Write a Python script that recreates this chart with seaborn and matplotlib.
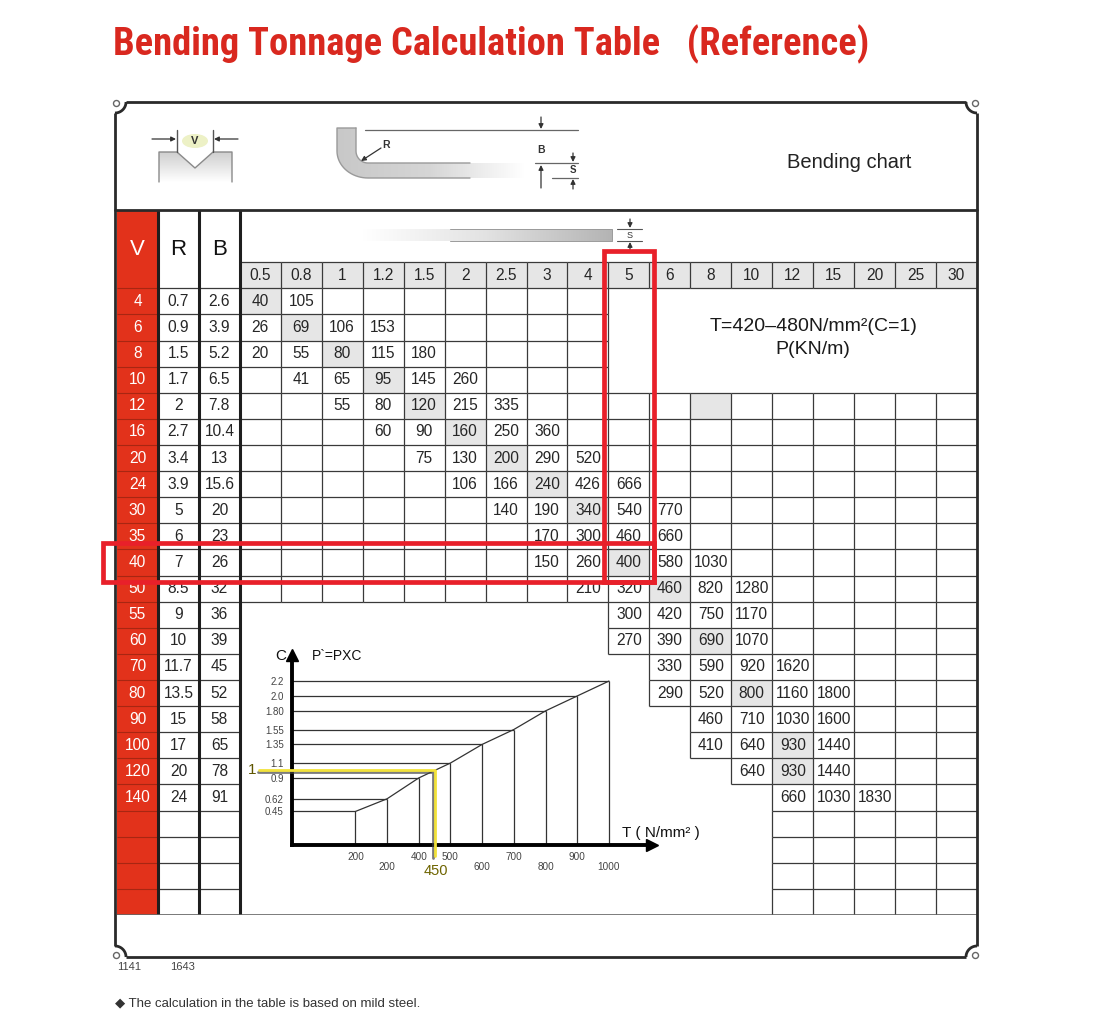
import numpy as np
import pandas as pd
import seaborn as sns
import matplotlib.pyplot as plt
import matplotlib.patheffects as pe
from matplotlib.colors import ListedColormap, LinearSegmentedColormap
from matplotlib.collections import LineCollection
from matplotlib.patches import Rectangle, Polygon, Ellipse, Circle
from matplotlib.transforms import blended_transform_factory

OUT_PATH = 'out.png'

# die opening V, inner radius R, minimum flange B
V_VALUES = [4, 6, 8, 10, 12, 16, 20, 24, 30, 35, 40, 50, 55, 60, 70, 80, 90, 100, 120, 140]
R_VALUES = [0.7, 0.9, 1.5, 1.7, 2, 2.7, 3.4, 3.9, 5, 6, 7, 8.5, 9, 10, 11.7, 13.5, 15, 17, 20, 24]
B_VALUES = [2.6, 3.9, 5.2, 6.5, 7.8, 10.4, 13, 15.6, 20, 23, 26, 32, 36, 39, 45, 52, 58, 65, 78, 91]
S_VALUES = ['0.5', '0.8', '1', '1.2', '1.5', '2', '2.5', '3', '4', '5',
            '6', '8', '10', '12', '15', '20', '25', '30']

# tonnage P (kN/m): first thickness column of each V row, then its values
ROW_START = ['0.5', '0.5', '0.5', '0.8', '1', '1.2', '1.5', '2', '2.5', '3',
             '3', '4', '5', '5', '6', '6', '8', '8', '10', '12']
ROW_TONNAGE = [
    [40, 105],
    [26, 69, 106, 153],
    [20, 55, 80, 115, 180],
    [41, 65, 95, 145, 260],
    [55, 80, 120, 215, 335],
    [60, 90, 160, 250, 360],
    [75, 130, 200, 290, 520],
    [106, 166, 240, 426, 666],
    [140, 190, 340, 540, 770],
    [170, 300, 460, 660],
    [150, 260, 400, 580, 1030],
    [210, 320, 460, 820, 1280],
    [300, 420, 750, 1170],
    [270, 390, 690, 1070],
    [330, 590, 920, 1620],
    [290, 520, 800, 1160, 1800],
    [460, 710, 1030, 1600],
    [410, 640, 930, 1440],
    [640, 930, 1440],
    [660, 1030, 1830],
]

# grey (recommended) cells
SHADED_V = [4, 6, 8, 10, 12, 16, 20, 24, 30, 40, 50, 60, 80, 100, 120, 12]
SHADED_S = ['0.5', '0.8', '1', '1.2', '1.5', '2', '2.5', '3', '4', '5',
            '6', '8', '10', '12', '12', '8']

HIGHLIGHT_V = 40
HIGHLIGHT_S = '5'

# correction factor chart
T_LEVELS = [200, 300, 400, 500, 600, 700, 800, 900, 1000]
T_LABELS = ['200', '200', '400', '500', '600', '700', '800', '900', '1000']
C_LEVELS = [0.45, 0.62, 0.9, 1.1, 1.35, 1.55, 1.8, 2.0, 2.2]
C_LABELS = ['0.45', '0.62', '0.9', '1.1', '1.35', '1.55', '1.80', '2.0', '2.2']
REF_T = 450
REF_C = 1

# layout (pixels of the 1114x1025 picture)
W, H = 1114, 1025
TAB_L, TAB_R, TAB_T, TAB_B = 117, 977, 210, 915
N_HEAD = 3
N_EMPTY = 4
NOTE_ROWS = 4           # first V rows where the note sits on the right
NOTE_FROM = '5'
CHART_FROM_V = 55       # rows from here on leave room for the C chart
LOWER_LABELS = [1, 4, 6, 8]
CHART_BOX = (292, 652, 655, 845)   # left, right, top, bottom
CHART_XLIM = (0, 1136)
CHART_YLIM = (0, 2.55)

RED = '#e2321b'
BOX_RED = '#e8202a'
LINE = '#3a3a3a'


def main():
    sns.set_theme(style='white')
    plt.rcParams['font.family'] = ['Liberation Sans', 'DejaVu Sans']

    fig = plt.figure(figsize=(W / 100, H / 100), dpi=100)
    fig.patch.set_facecolor('white')

    n_rows = N_HEAD + len(V_VALUES) + N_EMPTY
    n_cols = 3 + len(S_VALUES)

    codes = np.zeros((n_rows, n_cols))
    codes[:, 0] = 2
    codes[2, 3:] = 1
    for v, s in zip(SHADED_V, SHADED_S):
        codes[N_HEAD + V_VALUES.index(v), 3 + S_VALUES.index(s)] = 1

    annot = np.full((n_rows, n_cols), '', dtype=object)
    annot[2, 3:] = S_VALUES
    for i, (v, r, b) in enumerate(zip(V_VALUES, R_VALUES, B_VALUES)):
        row = N_HEAD + i
        annot[row, 0] = str(v)
        annot[row, 1] = f'{r:g}'
        annot[row, 2] = f'{b:g}'
        j0 = 3 + S_VALUES.index(ROW_START[i])
        for k, p in enumerate(ROW_TONNAGE[i]):
            annot[row, j0 + k] = str(p)

    # which cells get borders
    grid = np.zeros((n_rows, n_cols), dtype=bool)
    grid[N_HEAD:, 1:3] = True
    grid[2, 3:] = True
    note_col = 3 + S_VALUES.index(NOTE_FROM)
    for i, v in enumerate(V_VALUES):
        row = N_HEAD + i
        if i < NOTE_ROWS:
            grid[row, 3:note_col] = True
        elif v >= CHART_FROM_V:
            grid[row, 3 + S_VALUES.index(ROW_START[i]):] = True
        else:
            grid[row, 3:] = True
    for e in range(N_EMPTY):
        grid[N_HEAD + len(V_VALUES) + e, 3 + S_VALUES.index(ROW_START[-1]):] = True

    segs = set()
    for r, c in zip(*np.nonzero(grid)):
        segs.add(((c, r), (c + 1, r)))
        segs.add(((c, r + 1), (c + 1, r + 1)))
        segs.add(((c, r), (c, r + 1)))
        segs.add(((c + 1, r), (c + 1, r + 1)))

    # table
    tab = fig.add_axes([TAB_L / W, 1 - TAB_B / H, (TAB_R - TAB_L) / W, (TAB_B - TAB_T) / H])
    sns.heatmap(pd.DataFrame(codes), ax=tab,
                cmap=ListedColormap(['#ffffff', '#e6e6e6', RED]),
                vmin=-0.5, vmax=2.5, cbar=False, annot=annot, fmt='',
                annot_kws={'fontsize': 11.2}, xticklabels=False, yticklabels=False)
    tab.set_axis_off()
    tab.add_collection(LineCollection(list(segs), colors=LINE, linewidths=0.9))
    tab.hlines(range(N_HEAD, n_rows), 0, 1, colors='#a82612', linewidths=0.8)
    tab.vlines([1, 2, 3], 0, n_rows, colors='#1e1e1e', linewidths=2.2)
    tab.hlines(n_rows, 0, n_cols, colors='#666666', linewidths=1.2)

    tab.text(0.5, 1.5, 'V', color='white', fontsize=16, ha='center', va='center')
    tab.text(1.5, 1.5, 'R', color='#111111', fontsize=16, ha='center', va='center')
    tab.text(2.5, 1.5, 'B', color='#111111', fontsize=16, ha='center', va='center')

    note_x = (note_col + n_cols) / 2 + 0.5
    tab.text(note_x, 4.45, 'T=420\u2013480N/mm\u00b2(C=1)', fontsize=14,
             ha='center', va='center', color='#1a1a1a')
    tab.text(note_x, 5.35, 'P(KN/m)', fontsize=14, ha='center', va='center', color='#1a1a1a')

    # correction chart C vs T
    cl, cr, ct, cb = CHART_BOX
    diag = fig.add_axes([cl / W, 1 - cb / H, (cr - cl) / W, (cb - ct) / H])
    diag.patch.set_alpha(0)
    xlim, ylim = CHART_XLIM, CHART_YLIM
    diag.hlines(C_LEVELS, xlim[0], T_LEVELS, colors='#333333', linewidths=0.9)
    diag.vlines(T_LEVELS, ylim[0], C_LEVELS, colors='#333333', linewidths=0.9)
    sns.lineplot(x=T_LEVELS, y=C_LEVELS, ax=diag, color='#333333', lw=0.9)
    diag.set_xlim(xlim)
    diag.set_ylim(ylim)
    sns.despine(ax=diag)
    for side in ('left', 'bottom'):
        diag.spines[side].set_linewidth(2.8)
        diag.spines[side].set_color('black')
    diag.plot([1], [0], marker='>', ms=9, color='black', transform=diag.transAxes, clip_on=False)
    diag.plot([0], [1], marker='^', ms=9, color='black', transform=diag.transAxes, clip_on=False)
    diag.set_xticks([])
    diag.set_yticks(C_LEVELS, C_LABELS)
    diag.tick_params(axis='y', length=0, pad=6, labelsize=7, labelcolor='#444444')
    diag.set_xlabel('')
    diag.set_ylabel('')
    blend = blended_transform_factory(diag.transData, diag.transAxes)
    for k, (t, lab) in enumerate(zip(T_LEVELS, T_LABELS)):
        y = -0.116 if k in LOWER_LABELS else -0.063
        diag.text(t, y, lab, transform=blend, fontsize=7.2, color='#444444',
                  ha='center', va='center')

    def t_at(px):
        return xlim[0] + (px - cl) / (cr - cl) * (xlim[1] - xlim[0])

    def c_at(py):
        return ylim[0] + (cb - py) / (cb - ct) * (ylim[1] - ylim[0])

    diag.plot([t_at(259), REF_T, REF_T], [REF_C, REF_C, c_at(856)], color='#f2e23a',
              lw=2, clip_on=False, zorder=4,
              path_effects=[pe.SimpleLineShadow(offset=(-0.8, -1.3), shadow_color='#444444', alpha=0.7),
                            pe.Normal()])

    # overlay for frame, title and drawings
    bg = fig.add_axes([0, 0, 1, 1])
    bg.set_axis_off()
    bg.patch.set_alpha(0)

    title = bg.text(113, 44, 'Bending Tonnage Calculation Table   (Reference)',
                    fontsize=26, fontweight='bold', color='#d9281f', ha='left', va='center',
                    family=['Roboto Condensed', 'DejaVu Sans'], fontstretch='condensed')
    fig.canvas.draw()
    w = title.get_window_extent().width
    title.set_fontsize(26 * 757 / w)

    # frame with notched corners
    x0, x1, y0, y1, rr = 115, 977, 102, 957, 11
    fk = dict(color='#2a2a2a', lw=2, solid_capstyle='butt')
    bg.plot([x0 + rr, x1 - rr], [y0, y0], **fk)
    bg.plot([x0 + rr, x1 - rr], [y1, y1], **fk)
    bg.plot([x0, x0], [y0 + rr, y1 - rr], **fk)
    bg.plot([x1, x1], [y0 + rr, y1 - rr], **fk)
    t = np.linspace(0, np.pi / 2, 20)
    for cx, cy, sx, sy in ((x0, y0, 1, 1), (x1, y0, -1, 1), (x0, y1, 1, -1), (x1, y1, -1, -1)):
        bg.plot(cx + sx * rr * np.cos(t), cy + sy * rr * np.sin(t), **fk)
        bg.add_patch(Circle((cx + sx * 1.5, cy + sy * 1.5), 3, fc='white', ec='#666666', lw=1, zorder=5))
    bg.plot([x0, x1], [TAB_T, TAB_T], color='#2a2a2a', lw=2)

    # V die sketch
    die = [(159, 182), (159, 152), (177, 152), (195, 168), (213, 152), (232, 152), (232, 182)]
    die_poly = Polygon(die, closed=True, fc='none', ec='none')
    bg.add_patch(die_poly)
    grey_down = LinearSegmentedColormap.from_list('gd', ['#cfcfcf', '#ffffff'])
    im = bg.imshow(np.linspace(0, 1, 64)[:, None], extent=(159, 232, 182, 152), cmap=grey_down,
                   aspect='auto', origin='upper')
    im.set_clip_path(die_poly)
    bg.plot([p[0] for p in die], [p[1] for p in die], color='#8a8a8a', lw=1)
    bg.plot([177, 177], [130, 152], color='#555555', lw=1)
    bg.plot([213, 213], [130, 152], color='#555555', lw=1)
    ak = dict(arrowstyle='-|>', color='#333333', lw=0.9, mutation_scale=7, shrinkA=0, shrinkB=0)
    bg.annotate('', xy=(176, 139), xytext=(152, 139), arrowprops=ak)
    bg.annotate('', xy=(214, 139), xytext=(238, 139), arrowprops=ak)
    bg.add_patch(Ellipse((195, 141), 26, 14, fc='#edf1c6', ec='none'))
    bg.text(195, 141.5, 'V', fontsize=8, fontweight='bold', color='#333333', ha='center', va='center')

    # bent sheet sketch
    t = np.linspace(0, np.pi / 2, 20)
    inner = [(368 - 12 * np.cos(a), 151 + 12 * np.sin(a)) for a in t]
    outer = [(368 - 31 * np.cos(a), 151 + 27 * np.sin(a)) for a in t[::-1]]
    sheet = [(337, 128), (356, 128)] + inner + [(525, 163), (525, 178)] + outer
    sheet_poly = Polygon(sheet, closed=True, fc='none', ec='none')
    bg.add_patch(sheet_poly)
    grey_right = LinearSegmentedColormap.from_list('gr', ['#c8c8c8', '#d6d6d6', '#ffffff'])
    im = bg.imshow(np.linspace(0, 1, 128)[None, :], extent=(337, 525, 178, 128), cmap=grey_right,
                   aspect='auto', origin='upper')
    im.set_clip_path(sheet_poly)
    edge_in = [(356, 128)] + inner + [(470, 163)]
    edge_out = [(470, 178)] + outer + [(337, 128), (356, 128)]
    for e in (edge_in, edge_out):
        bg.plot([p[0] for p in e], [p[1] for p in e], color='#9a9a9a', lw=1)
    bg.text(386, 145, 'R', fontsize=7.5, fontweight='bold', color='#333333', ha='center', va='center')
    bg.annotate('', xy=(361, 161), xytext=(381, 148), arrowprops=ak)
    for ys, xa in ((130, 365), (163, 535), (178, 552)):
        bg.plot([xa, 578], [ys, ys], color='#666666', lw=0.9)
    bg.annotate('', xy=(541, 129), xytext=(541, 117), arrowprops=ak)
    bg.annotate('', xy=(541, 165), xytext=(541, 188), arrowprops=ak)
    bg.text(541, 150, 'B', fontsize=7.5, fontweight='bold', color='#333333', ha='center', va='center')
    bg.annotate('', xy=(573, 162), xytext=(573, 153), arrowprops=ak)
    bg.annotate('', xy=(573, 179), xytext=(573, 189), arrowprops=ak)
    bg.text(573, 170, 'S', fontsize=7, fontweight='bold', color='#333333', ha='center', va='center')

    bg.text(849, 163, 'Bending chart', fontsize=14.5, color='#222222', ha='center', va='center')

    # plate in the thickness header
    grey_plate = LinearSegmentedColormap.from_list('gp', ['#ffffff', '#e2e2e2', '#b4b4b4'])
    bg.imshow(np.linspace(0, 1, 128)[None, :], extent=(362, 612, 241, 229), cmap=grey_plate,
              aspect='auto', origin='upper')
    bg.plot([450, 612, 612, 450], [229, 229, 241, 241], color='#9a9a9a', lw=0.7)
    bg.plot([617, 642], [229, 229], color='#555555', lw=0.8)
    bg.plot([617, 642], [241, 241], color='#555555', lw=0.8)
    bg.annotate('', xy=(630, 228), xytext=(630, 219), arrowprops=ak)
    bg.annotate('', xy=(630, 242), xytext=(630, 251), arrowprops=ak)
    bg.text(630, 235, 'S', fontsize=6.5, color='#333333', ha='center', va='center')

    # red highlight of the worked example
    hv_row = N_HEAD + V_VALUES.index(HIGHLIGHT_V)
    hs_col = 3 + S_VALUES.index(HIGHLIGHT_S)
    bk = dict(fill=False, ec=BOX_RED, lw=3.4, transform=tab.transData, clip_on=False, zorder=6)
    bg.add_patch(Rectangle((hs_col - 0.12, 1.58), 1.24, hv_row + 1.25 - 1.58, **bk))
    bg.add_patch(Rectangle((-0.34, hv_row - 0.25), hs_col + 1.12 + 0.34, 1.5, **bk))

    # chart labels
    bg.text(281, 656, 'C', fontsize=11, color='#111111', ha='center', va='center')
    bg.text(312, 656, 'P`=PXC', fontsize=10, color='#111111', ha='left', va='center')
    bg.text(622, 833, 'T ( N/mm\u00b2 )', fontsize=11, color='#111111', ha='left', va='center')
    bg.text(252, 770, '1', fontsize=11, color='#5e5500', ha='center', va='center')
    bg.text(436, 871, '450', fontsize=10.5, color='#6e6400', ha='center', va='center')

    # footer
    bg.text(117, 967, '1141', fontsize=8, color='#444444', ha='left', va='center')
    bg.text(170, 967, '1643', fontsize=8, color='#444444', ha='left', va='center')
    bg.text(115, 1003, '\u25c6 The calculation in the table is based on mild steel.',
            fontsize=9.5, color='#333333', ha='left', va='center')

    bg.set_xlim(0, W)
    bg.set_ylim(H, 0)

    fig.savefig(OUT_PATH, dpi=100, facecolor='white')


if __name__ == '__main__':
    main()
